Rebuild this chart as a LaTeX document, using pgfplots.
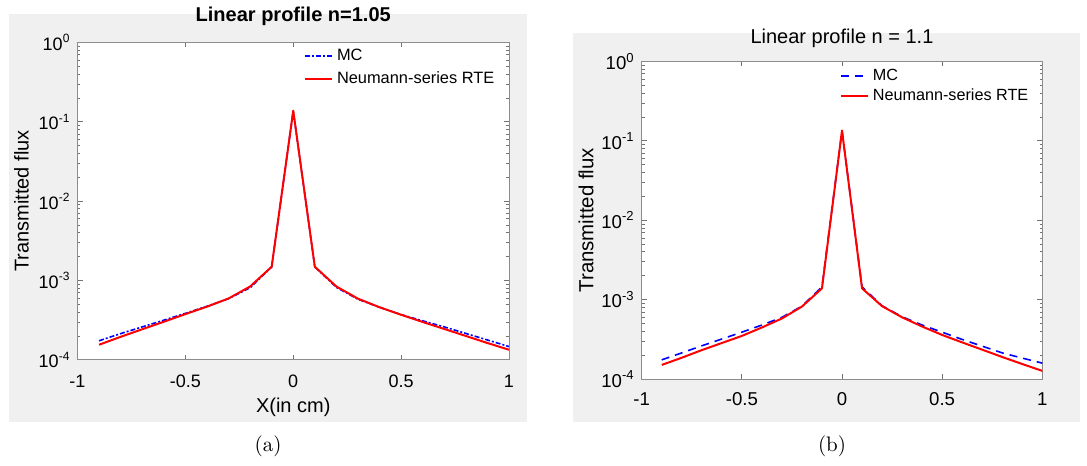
\documentclass[border=0pt]{standalone}
\usepackage{fontspec}
\usepackage{pgfplots}
\pgfplotsset{compat=1.18}
\usepackage{pgfplotstable}
\newfontfamily\hv{Liberation Sans}

% panel (a): n = 1.05
\pgfplotstableread{
x     mc       rte
-0.9  1.74e-4  1.55e-4
-0.8  2.14e-4  1.95e-4
-0.7  2.60e-4  2.43e-4
-0.6  3.16e-4  3.02e-4
-0.5  3.85e-4  3.77e-4
-0.4  4.73e-4  4.68e-4
-0.3  5.90e-4  5.93e-4
-0.2  8.10e-4  8.40e-4
-0.1  1.48e-3  1.49e-3
 0.0  0.137    0.138
 0.1  1.48e-3  1.49e-3
 0.2  8.20e-4  8.40e-4
 0.3  5.80e-4  5.90e-4
 0.4  4.60e-4  4.60e-4
 0.5  3.72e-4  3.70e-4
 0.6  3.10e-4  3.00e-4
 0.7  2.60e-4  2.45e-4
 0.8  2.15e-4  2.00e-4
 0.9  1.78e-4  1.63e-4
 1.0  1.47e-4  1.34e-4
}\tabA

% panel (b): n = 1.1
\pgfplotstableread{
x     mc       rte
-0.9  1.75e-4  1.51e-4
-0.8  2.14e-4  1.86e-4
-0.7  2.63e-4  2.32e-4
-0.6  3.20e-4  2.85e-4
-0.5  3.90e-4  3.50e-4
-0.4  4.80e-4  4.47e-4
-0.3  6.00e-4  5.80e-4
-0.2  8.30e-4  8.20e-4
-0.1  1.45e-3  1.39e-3
 0.0  0.135    0.135
 0.1  1.45e-3  1.39e-3
 0.2  8.40e-4  8.30e-4
 0.3  6.10e-4  6.00e-4
 0.4  4.80e-4  4.60e-4
 0.5  3.90e-4  3.60e-4
 0.6  3.16e-4  2.90e-4
 0.7  2.60e-4  2.35e-4
 0.8  2.14e-4  1.90e-4
 0.9  1.84e-4  1.55e-4
 1.0  1.59e-4  1.27e-4
}\tabB

\definecolor{figgray}{gray}{0.94}

\begin{document}
\begin{tikzpicture}
\begin{scope}[x=0.5pt,y=0.5pt]
\path[use as bounding box] (0,0) rectangle (1087,456);
\fill[figgray] (8.6,451) rectangle (527,43);
\fill[figgray] (573.4,432.5) rectangle (1080,43.3);
\node[font=\fontsize{10.5}{12}\selectfont] at (268,19) {(a)};
\node[font=\fontsize{10.5}{12}\selectfont] at (832,19) {(b)};
\end{scope}

\begin{axis}[
  at={(38.75pt,52.65pt)}, anchor=south west,
  scale only axis, width=215.75pt, height=158.7pt,
  ymode=log,
  xmin=-1, xmax=1, ymin=1e-4, ymax=1,
  axis line style={black!45},
  every tick/.style={black!55},
  major tick length=2.5pt, minor tick length=1.4pt,
  tick align=inside,
  axis background/.style={fill=white},
  xtick={-1,-0.5,0,0.5,1},
  xticklabels={-1,-0.5,0,0.5,1},
  ytick={1e-4,1e-3,1e-2,1e-1,1},
  yticklabels={10\textsuperscript{-4},10\textsuperscript{-3},10\textsuperscript{-2},10\textsuperscript{-1},10\textsuperscript{0}},
  minor ytick={2e-4,3e-4,4e-4,5e-4,6e-4,7e-4,8e-4,9e-4,
               2e-3,3e-3,4e-3,5e-3,6e-3,7e-3,8e-3,9e-3,
               2e-2,3e-2,4e-2,5e-2,6e-2,7e-2,8e-2,9e-2,
               0.2,0.3,0.4,0.5,0.6,0.7,0.8,0.9},
  ticklabel style={font=\hv\fontsize{9}{10}\selectfont},
  xticklabel style={yshift=-4pt},
  title={Linear profile n=1.05},
  title style={font=\hv\bfseries\fontsize{10}{12}\selectfont, at={(0.5,1)}, anchor=base, yshift=4.65pt},
  xlabel={X(in cm)},
  xlabel style={font=\hv\fontsize{10}{12}\selectfont, at={(axis description cs:0.5,-0.149)}, anchor=center},
  ylabel={Transmitted flux},
  ylabel style={font=\hv\fontsize{10}{12}\selectfont, at={(axis description cs:-0.13,0.5)}, anchor=center},
  legend cell align=left,
  legend image code/.code={\draw[#1] (0pt,0pt) -- (13.5pt,0pt);},
  legend style={draw=none, fill=none, inner sep=0pt, font=\hv\fontsize{8.2}{9.5}\selectfont,
    at={(0.524,0.993)}, anchor=north west},
]
\addplot[blue, line width=0.8pt, line join=round, dash pattern=on 2.5pt off 1pt on 1pt off 1pt] table[x=x,y=mc] {\tabA};
\addplot[red, line width=1pt, line join=round] table[x=x,y=rte] {\tabA};
\legend{MC,Neumann-series RTE}
\end{axis}

\begin{axis}[
  at={(320.85pt,43pt)}, anchor=south west,
  scale only axis, width=200.3pt, height=158.85pt,
  ymode=log,
  xmin=-1, xmax=1, ymin=1e-4, ymax=1,
  axis line style={black!45},
  every tick/.style={black!55},
  major tick length=2.5pt, minor tick length=1.4pt,
  tick align=inside,
  axis background/.style={fill=white},
  xtick={-1,-0.5,0,0.5,1},
  xticklabels={-1,-0.5,0,0.5,1},
  ytick={1e-4,1e-3,1e-2,1e-1,1},
  yticklabels={10\textsuperscript{-4},10\textsuperscript{-3},10\textsuperscript{-2},10\textsuperscript{-1},10\textsuperscript{0}},
  minor ytick={2e-4,3e-4,4e-4,5e-4,6e-4,7e-4,8e-4,9e-4,
               2e-3,3e-3,4e-3,5e-3,6e-3,7e-3,8e-3,9e-3,
               2e-2,3e-2,4e-2,5e-2,6e-2,7e-2,8e-2,9e-2,
               0.2,0.3,0.4,0.5,0.6,0.7,0.8,0.9},
  ticklabel style={font=\hv\fontsize{9.3}{10}\selectfont},
  xticklabel style={yshift=-3pt},
  title={Linear profile n = 1.1},
  title style={font=\hv\fontsize{10}{12}\selectfont, at={(0.5,1)}, anchor=base, yshift=3.15pt},
  ylabel={Transmitted flux},
  ylabel style={font=\hv\fontsize{10.2}{12}\selectfont, at={(axis description cs:-0.139,0.5)}, anchor=center},
  legend cell align=left,
  legend image code/.code={\draw[#1] (0pt,0pt) -- (13.5pt,0pt);},
  legend style={draw=none, fill=none, inner sep=0pt, font=\hv\fontsize{8.1}{9.5}\selectfont,
    at={(0.4935,0.99)}, anchor=north west, row sep=-1.5pt},
]
\addplot[blue, line width=0.8pt, line join=round, dash pattern=on 4pt off 3pt] table[x=x,y=mc] {\tabB};
\addplot[red, line width=1pt, line join=round] table[x=x,y=rte] {\tabB};
\legend{MC,Neumann-series RTE}
\end{axis}
\end{tikzpicture}
\end{document}
